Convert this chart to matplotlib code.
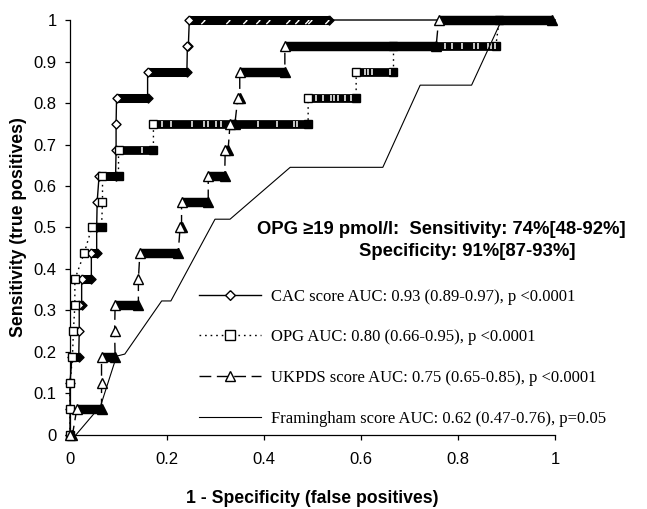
import matplotlib.pyplot as plt
from matplotlib.lines import Line2D

plt.rcParams['font.family'] = ['Liberation Sans', 'DejaVu Sans']

# sensitivity levels (n = 16 positives)
sens = [0, 0.0625, 0.125, 0.1875, 0.25, 0.3125, 0.375, 0.4375, 0.5,
        0.5625, 0.625, 0.6875, 0.75, 0.8125, 0.875, 0.9375, 1.0]

# first / last false-positive rate reached at each sensitivity level
cac_from = [0, 0, 0, 0.004, 0.019, 0.019, 0.024, 0.044, 0.055, 0.056, 0.06,
            0.095, 0.095, 0.096, 0.16, 0.242, 0.246]
cac_to = [0, 0, 0, 0.018, 0.019, 0.024, 0.044, 0.055, 0.055, 0.056, 0.094,
          0.095, 0.095, 0.16, 0.241, 0.244, 0.534]

opg_from = [0, 0, 0, 0.005, 0.007, 0.01, 0.01, 0.029, 0.045, 0.067, 0.067,
            0.1, 0.172, 0.491, 0.59, 0.667, 0.885]
opg_to = [0, 0, 0, 0.005, 0.007, 0.01, 0.01, 0.029, 0.065, 0.067, 0.1,
          0.172, 0.491, 0.59, 0.667, 0.878, 0.885]

ukpds_from = [0, 0.014, 0.065, 0.065, 0.092, 0.093, 0.141, 0.144, 0.227, 0.23,
              0.285, 0.32, 0.33, 0.346, 0.35, 0.443, 0.76]
ukpds_to = [0.005, 0.065, 0.065, 0.093, 0.092, 0.141, 0.141, 0.223, 0.23, 0.285,
            0.319, 0.326, 0.34, 0.35, 0.443, 0.755, 0.993]

# sparser points inside the dark runs (their white insides show through)
cac_gap_x = [0.274, 0.326, 0.361, 0.388, 0.408, 0.449, 0.468, 0.489, 0.495, 0.53]
cac_gap_y = [1.0] * 10
opg_gap_x = [0.148,
             0.19, 0.208, 0.252, 0.277, 0.284, 0.301, 0.311, 0.387, 0.426, 0.462, 0.468,
             0.508, 0.522, 0.538, 0.545, 0.552, 0.566, 0.58,
             0.608, 0.615, 0.622, 0.66,
             0.773, 0.787, 0.808, 0.832, 0.842, 0.862, 0.869, 0.876]
opg_gap_y = [0.6875] + [0.75] * 11 + [0.8125] * 7 + [0.875] * 4 + [0.9375] * 8

fram_x = [0.012, 0.063, 0.096, 0.113, 0.189, 0.208, 0.299, 0.33, 0.454, 0.645,
          0.722, 0.828, 0.89, 1.0]
fram_y = [0, 0.07, 0.19, 0.195, 0.323, 0.323, 0.52, 0.52, 0.645, 0.645,
          0.843, 0.843, 1.0, 1.0]

labels = ['CAC score AUC: 0.93 (0.89-0.97), p <0.0001',
          'OPG AUC: 0.80 (0.66-0.95), p <0.0001',
          'UKPDS score AUC: 0.75 (0.65-0.85), p <0.0001',
          'Framingham score AUC: 0.62 (0.47-0.76), p=0.05']

DIAMOND = [(0, 1), (1, 0), (0, -1), (-1, 0), (0, 1)]
CHEVRON = [(-0.6, 1), (0.4, 0), (-0.6, -1)]
DOTS = (0, (1.2, 2.8))
DASHES = (0, (8.5, 4))

fig = plt.figure(figsize=(6.47, 5.09), dpi=100)
ax = fig.add_axes([0.1082, 0.1454, 0.7496, 0.8153])


def roc(xf, xt, ls, marker, ms, z):
    # step line through all points
    px, py = [], []
    for a, b, s in zip(xf, xt, sens):
        px += [a, b]
        py += [s, s]
    px.append(1.0)
    py.append(1.0)
    ax.plot(px, py, color='k', lw=1.0, ls=ls, clip_on=False, zorder=2)
    # runs of many overlapping markers look like solid black bars
    for a, b, s in zip(xf, xt, sens):
        if b > a:
            ax.plot([a, b], [s, s], color='k', lw=ms, solid_capstyle='butt',
                    clip_on=False, zorder=z)
            ax.plot([b], [s], marker=marker, ms=ms, mfc='k', mec='k',
                    clip_on=False, zorder=z)
        ax.plot([a], [s], marker=marker, ms=ms, mfc='white', mec='k', mew=1.0,
                clip_on=False, zorder=z)


roc(cac_from, cac_to, '-', DIAMOND, 6.5, 3)
ax.plot(cac_gap_x, cac_gap_y, ls='none', marker=CHEVRON, ms=5.2, mfc='none',
        mec='white', mew=1.0, zorder=3.05)
roc(opg_from, opg_to, DOTS, 's', 6.3, 3.1)
ax.plot(opg_gap_x, opg_gap_y, ls='none', marker='|', ms=4.2, mec='white',
        mew=1.1, zorder=3.15)
roc(ukpds_from, ukpds_to, DASHES, '^', 6.8, 3.2)
ax.plot(fram_x, fram_y, color='k', lw=0.8, clip_on=False, zorder=4)

handles = [
    Line2D([], [], color='k', lw=1.0, marker=DIAMOND, ms=7, mfc='white', mec='k'),
    Line2D([], [], color='k', lw=1.0, ls=DOTS, marker='s', ms=6.5, mfc='white', mec='k'),
    Line2D([], [], color='k', lw=1.0, ls=DASHES, marker='^', ms=7.5, mfc='white', mec='k'),
    Line2D([], [], color='k', lw=0.8),
]
ax.legend(handles, labels, loc='upper left', bbox_to_anchor=(0.266, 0.353),
          frameon=False, borderpad=0, borderaxespad=0, handlelength=3.7,
          handletextpad=0.6, labelspacing=1.48,
          prop={'family': 'Liberation Serif', 'size': 12})

ax.text(0.386, 0.494, 'OPG \u226519 pmol/l:  Sensitivity: 74%[48-92%]',
        fontsize=13.3, fontweight='bold', va='center', ha='left')
ax.text(0.596, 0.441, 'Specificity: 91%[87-93%]',
        fontsize=13.3, fontweight='bold', va='center', ha='left')

ax.set_xlim(0, 1)
ax.set_ylim(0, 1)
ax.set_xticks([0, 0.2, 0.4, 0.6, 0.8, 1])
ax.set_xticklabels(['0', '0.2', '0.4', '0.6', '0.8', '1'])
ax.set_yticks([i / 10 for i in range(11)])
ax.set_yticklabels(['0', '0.1', '0.2', '0.3', '0.4', '0.5', '0.6', '0.7',
                    '0.8', '0.9', '1'])
ax.tick_params(axis='both', direction='out', length=3.6, width=0.9, labelsize=12)
ax.tick_params(axis='x', pad=9)
ax.tick_params(axis='y', pad=6)
ax.spines['top'].set_visible(False)
ax.spines['right'].set_visible(False)
ax.spines['left'].set_linewidth(0.9)
ax.spines['bottom'].set_linewidth(0.9)

ax.set_xlabel('1 - Specificity (false positives)', fontsize=12.7, fontweight='bold')
ax.set_ylabel('Sensitivity (true positives)', fontsize=12.7, fontweight='bold')
ax.xaxis.set_label_coords(0.5, -0.133)
ax.yaxis.set_label_coords(-0.089, 0.5)

fig.savefig('out.png', dpi=100)
